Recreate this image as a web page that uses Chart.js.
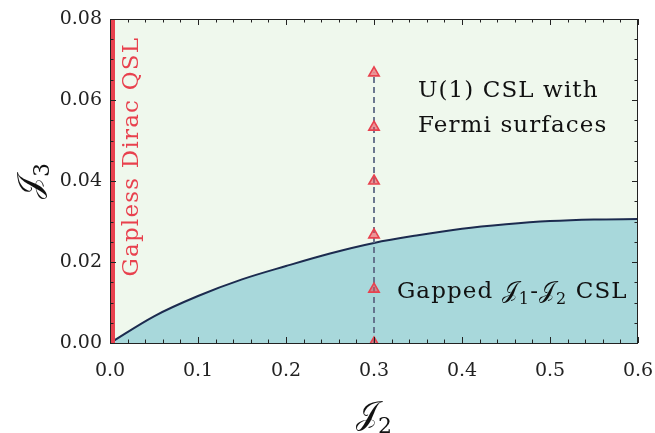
<!DOCTYPE html>
<html lang="en">
<head>
<meta charset="UTF-8">
<title>J2-J3 phase diagram</title>
<script src="https://cdn.jsdelivr.net/npm/chart.js"></script>
<style>
  html, body { margin: 0; padding: 0; background: #fff; }
  #wrap { width: 655px; height: 433px; }
</style>
</head>
<body>
<div id="wrap"><canvas id="phaseChart"></canvas></div>
<script>
// phase boundary between the gapped J1-J2 CSL and the U(1) CSL
const boundaryJ2 = [0, 0.05, 0.1, 0.15, 0.2, 0.25, 0.3, 0.35, 0.4, 0.45, 0.5, 0.55, 0.6];
const boundaryJ3 = [0, 0.0066, 0.0116, 0.0157, 0.0190, 0.0221, 0.0247, 0.0266, 0.0282, 0.0293, 0.0301, 0.0305, 0.0306];

// scanned points at J2 = 0.3
const scanJ2 = [0.3, 0.3, 0.3, 0.3, 0.3, 0.3];
const scanJ3 = [0, 0.0133, 0.0267, 0.04, 0.0533, 0.0667];

// gapless Dirac line at J2 = 0
const diracJ2 = [0, 0];
const diracJ3 = [0, 0.08];

const xTicks = [0, 0.1, 0.2, 0.3, 0.4, 0.5, 0.6];
const yTicks = [0, 0.02, 0.04, 0.06, 0.08];

const J = '\u{1D4A5}';
const phaseNames = ['Gapless Dirac QSL', 'U(1) CSL with', 'Fermi surfaces', 'Gapped', 'CSL'];

const FONT = '"DejaVu Serif", "Liberation Serif", serif';
const RED = '#e8414e';
const INK = '#222';

function pts(xs, ys) {
    return xs.map((x, i) => ({ x, y: ys[i] }));
}

// draws a list of [text, isSub] runs starting at (x, y), returns the end x
function drawRuns(ctx, runs, x, y, size) {
    for (const [txt, sub] of runs) {
        ctx.font = (sub ? Math.round(size * 0.68) : size) + 'px ' + FONT;
        ctx.fillText(txt, x, sub ? y + size * 0.28 : y);
        x += ctx.measureText(txt).width;
    }
    return x;
}

function runsWidth(ctx, runs, size) {
    let w = 0;
    for (const [txt, sub] of runs) {
        ctx.font = (sub ? Math.round(size * 0.68) : size) + 'px ' + FONT;
        w += ctx.measureText(txt).width;
    }
    return w;
}

// background, phase labels, axis titles, frame and inward ticks
const phasePlugin = {
    id: 'phasePlugin',
    beforeDatasetsDraw(chart) {
        const { ctx, chartArea: a } = chart;
        ctx.save();
        ctx.fillStyle = '#eff8ed';
        ctx.fillRect(a.left, a.top, a.width, a.height);
        ctx.restore();
    },
    afterDatasetsDraw(chart) {
        const { ctx, scales: { x, y } } = chart;
        ctx.save();
        ctx.translate(x.getPixelForValue(0.0245), y.getPixelForValue(0.046));
        ctx.rotate(-Math.PI / 2);
        ctx.fillStyle = RED;
        ctx.font = '23px ' + FONT;
        ctx.letterSpacing = '1.2px';
        ctx.textAlign = 'center';
        ctx.textBaseline = 'middle';
        ctx.fillText(phaseNames[0], 0, 0);
        ctx.restore();

        ctx.save();
        ctx.fillStyle = '#111';
        ctx.font = '23px ' + FONT;
        ctx.letterSpacing = '1.1px';
        ctx.textAlign = 'left';
        ctx.textBaseline = 'alphabetic';
        ctx.fillText(phaseNames[1], x.getPixelForValue(0.35), y.getPixelForValue(0.0607));
        ctx.fillText(phaseNames[2], x.getPixelForValue(0.35), y.getPixelForValue(0.0521));
        drawRuns(ctx, [[phaseNames[3] + ' ', false], [J, false], ['1', true], ['-', false], [J, false], ['2', true], [' ' + phaseNames[4], false]],
            x.getPixelForValue(0.326), y.getPixelForValue(0.0111), 23);
        ctx.restore();
    },
    afterDraw(chart) {
        const { ctx, chartArea: a, scales: { x, y } } = chart;
        ctx.save();
        ctx.strokeStyle = INK;
        ctx.lineWidth = 1;
        ctx.strokeRect(a.left + 0.5, a.top + 0.5, a.width - 1, a.height);

        const tick = (len, step, scale, horizontal) => {
            const n = Math.round((scale.max - scale.min) / step);
            for (let i = 0; i <= n; i++) {
                const p = Math.round(scale.getPixelForValue(scale.min + i * step)) + 0.5;
                ctx.beginPath();
                if (horizontal) {
                    ctx.moveTo(p, a.bottom); ctx.lineTo(p, a.bottom - len);
                    ctx.moveTo(p, a.top); ctx.lineTo(p, a.top + len);
                } else {
                    ctx.moveTo(a.left, p); ctx.lineTo(a.left + len, p);
                    ctx.moveTo(a.right, p); ctx.lineTo(a.right - len, p);
                }
                ctx.stroke();
            }
        };
        tick(3.5, 0.02, x, true);
        tick(6, 0.1, x, true);
        tick(3.5, 0.005, y, false);
        tick(6, 0.02, y, false);

        // axis titles
        ctx.fillStyle = '#111';
        ctx.textAlign = 'left';
        ctx.textBaseline = 'alphabetic';
        const xRuns = [[J, false], ['2', true]];
        const size = 32;
        const xw = runsWidth(ctx, xRuns, size);
        drawRuns(ctx, xRuns, (a.left + a.right) / 2 - xw / 2, 424, size);

        const yRuns = [[J, false], ['3', true]];
        const yw = runsWidth(ctx, yRuns, size);
        ctx.translate(40, (a.top + a.bottom) / 2);
        ctx.rotate(-Math.PI / 2);
        drawRuns(ctx, yRuns, -yw / 2, 0, size);
        ctx.restore();
    }
};

new Chart(document.getElementById('phaseChart'), {
    type: 'scatter',
    data: {
        datasets: [
            {
                label: 'boundary',
                data: pts(boundaryJ2, boundaryJ3),
                showLine: true,
                order: 3,
                borderColor: '#1c2b4f',
                borderWidth: 2,
                backgroundColor: '#a8d8db',
                fill: 'origin',
                pointRadius: 0,
                cubicInterpolationMode: 'monotone'
            },
            {
                label: 'dirac',
                data: pts(diracJ2, diracJ3),
                showLine: true,
                order: 2,
                borderColor: RED,
                borderWidth: 10,
                pointRadius: 0
            },
            {
                label: 'scan',
                data: pts(scanJ2, scanJ3),
                showLine: true,
                order: 1,
                borderColor: '#5e6a85',
                borderWidth: 1.8,
                borderDash: [6, 4],
                pointStyle: 'triangle',
                pointRadius: 6,
                pointBorderWidth: 1.6,
                pointBorderColor: RED,
                pointBackgroundColor: 'rgba(232, 65, 78, 0.55)'
            }
        ]
    },
    options: {
        responsive: true,
        maintainAspectRatio: false,
        animation: false,
        layout: { padding: { top: 19, right: 17, left: 0, bottom: 0 } },
        plugins: {
            legend: { display: false },
            tooltip: { enabled: false }
        },
        scales: {
            x: {
                type: 'linear',
                min: 0,
                max: 0.6,
                afterBuildTicks: s => { s.ticks = xTicks.map(v => ({ value: v })); },
                afterFit: s => { s.height = 90; s.paddingLeft = 0; s.paddingRight = 0; },
                grid: { display: false, tickLength: 0 },
                border: { display: false },
                ticks: {
                    color: INK,
                    font: { family: FONT, size: 19 },
                    padding: 17,
                    maxRotation: 0,
                    callback: v => v.toFixed(1)
                }
            },
            y: {
                type: 'linear',
                min: 0,
                max: 0.08,
                afterBuildTicks: s => { s.ticks = yTicks.map(v => ({ value: v })); },
                afterFit: s => { s.width = 110; s.paddingTop = 0; s.paddingBottom = 0; },
                grid: { display: false, tickLength: 0 },
                border: { display: false },
                ticks: {
                    color: INK,
                    font: { family: FONT, size: 19 },
                    padding: 8,
                    callback: v => v.toFixed(2)
                }
            }
        }
    },
    plugins: [phasePlugin]
});
</script>
</body>
</html>
